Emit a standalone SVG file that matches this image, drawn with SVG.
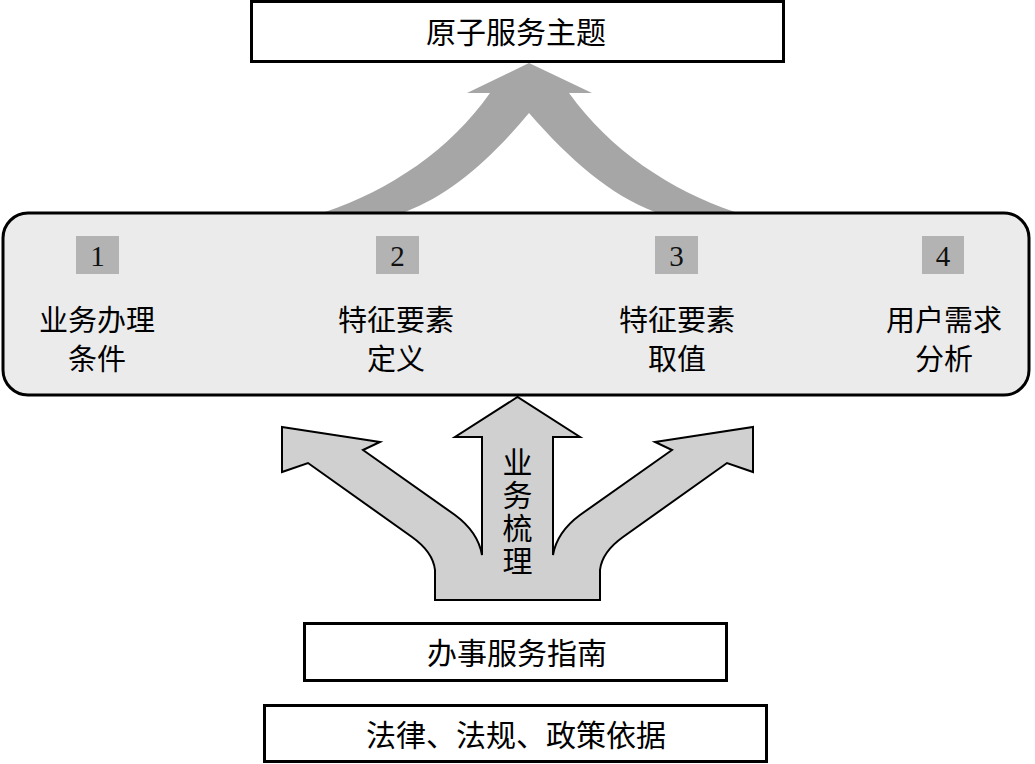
<svg xmlns="http://www.w3.org/2000/svg" width="1035" height="764" viewBox="0 0 1035 764">
<style>
.box{fill:#fff;stroke:#000;stroke-width:3}
.cjk{font-family:"Noto Sans CJK SC","Noto Sans CJK JP",sans-serif;font-size:30px;fill:#000;text-anchor:middle}
.lbl{font-size:29px}
.num{font-family:"Liberation Serif",serif;font-size:29px;fill:#111;text-anchor:middle}
.sq{fill:#b3b3b3}
.vert{writing-mode:vertical-rl;text-anchor:start;letter-spacing:3px}
</style>
<rect width="1035" height="764" fill="#fff"/>
<g id="connectors">
<path id="arc-arrow" d="M325,212 C390,190 450,150 490,93 L467,93 L529,63 L592,93 L569,93 C610,150 670,190 735,212 L655,212 C610,195 570,160 529,113 C490,160 450,195 405,212 Z" fill="#a6a6a6"/>
</g>
<g id="title">
<rect class="box" x="251.5" y="1.5" width="532" height="60"/>
<text class="cjk" x="516" y="43">原子服务主题</text>
</g>
<g id="main">
<rect x="3" y="213" width="1026" height="182" rx="25" fill="#ebebeb" stroke="#000" stroke-width="3"/>
</g>
<g id="item1">
<rect class="sq" x="76" y="236" width="43" height="38"/>
<text class="num" x="97.5" y="266">1</text>
<text class="cjk lbl" x="97" y="331">业务办理</text>
<text class="cjk lbl" x="97" y="370">条件</text>
</g>
<g id="item2">
<rect class="sq" x="376" y="236" width="43" height="38"/>
<text class="num" x="397.5" y="266">2</text>
<text class="cjk lbl" x="396" y="331">特征要素</text>
<text class="cjk lbl" x="396" y="370">定义</text>
</g>
<g id="item3">
<rect class="sq" x="655" y="236" width="43" height="38"/>
<text class="num" x="676.5" y="266">3</text>
<text class="cjk lbl" x="677" y="331">特征要素</text>
<text class="cjk lbl" x="677" y="370">取值</text>
</g>
<g id="item4">
<rect class="sq" x="922" y="236" width="42" height="38"/>
<text class="num" x="943" y="266">4</text>
<text class="cjk lbl" x="944" y="331">用户需求</text>
<text class="cjk lbl" x="944" y="370">分析</text>
</g>
<g id="split-arrow">
<path d="M282,427 L380,442 L363,450 L455,515 Q478,532 482,555 L482,437 L455,437 L517.5,397 L580,437 L553,437 L553,555 Q557,532 580,515 L672,450 L655,442 L753,427 L753,472 L727,463 L623,537 Q602,552 600,570 L600,600 L435,600 L435,570 Q433,552 412,537 L308,463 L282,472 Z" fill="#d0d0d0" stroke="#000" stroke-width="2" stroke-linejoin="miter"/>
<text class="cjk vert" x="517.5" y="447">业务梳理</text>
</g>
<g id="guide">
<rect class="box" x="304.5" y="623.5" width="422" height="57"/>
<text class="cjk" x="517" y="664">办事服务指南</text>
</g>
<g id="basis">
<rect class="box" x="264.5" y="705.5" width="502" height="56"/>
<text class="cjk" x="516" y="746">法律、法规、政策依据</text>
</g>
</svg>
